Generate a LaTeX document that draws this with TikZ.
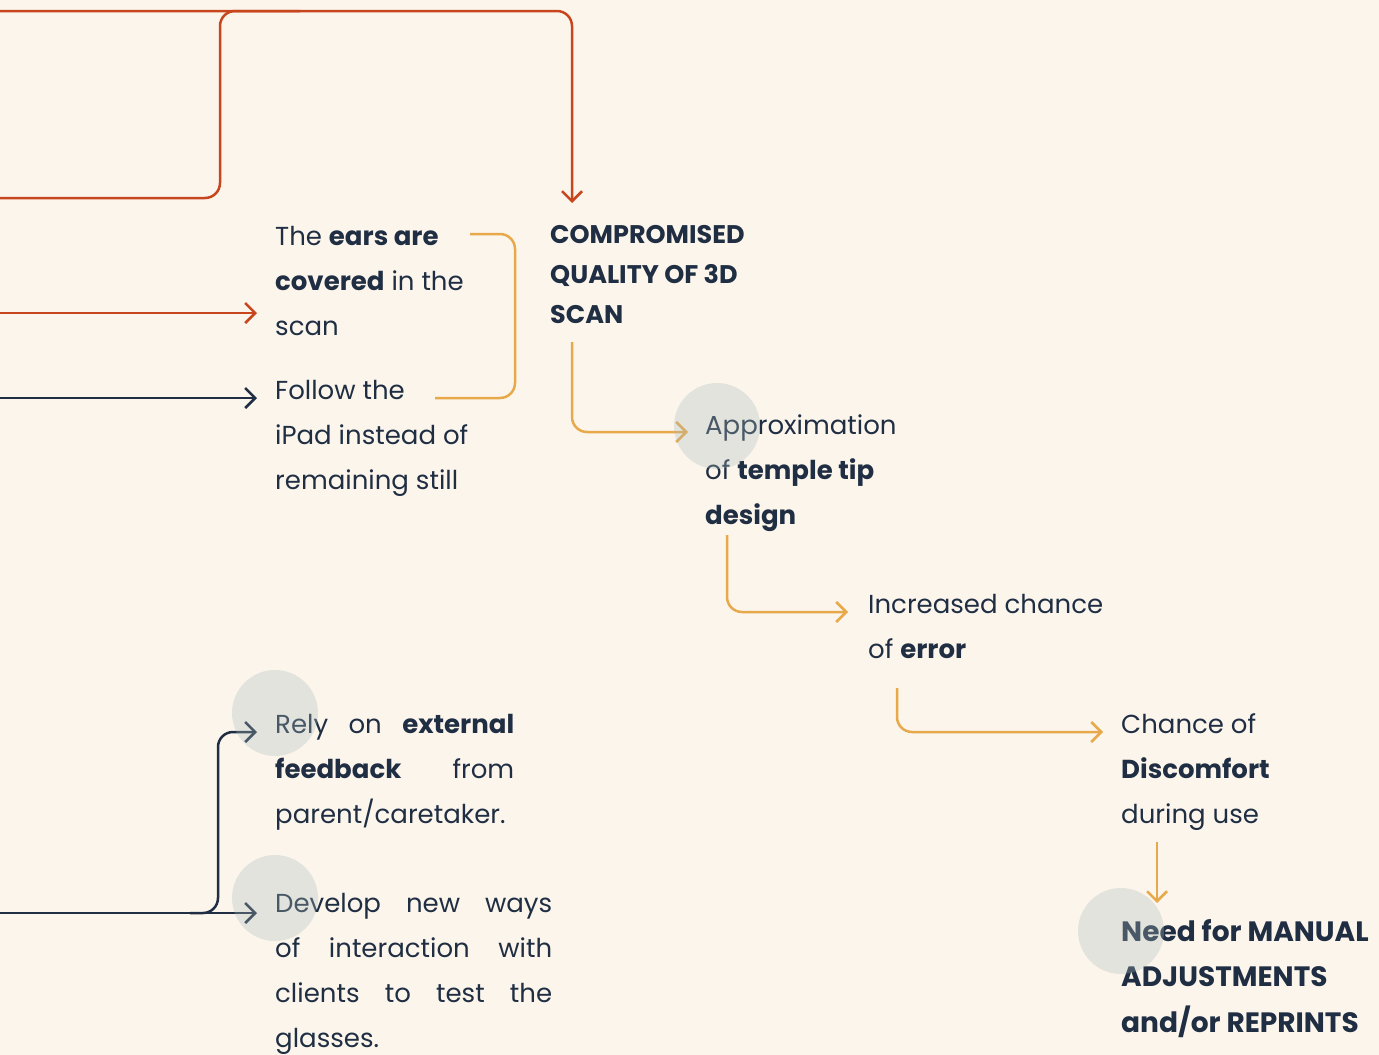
\documentclass[tikz,border=0pt]{standalone}
\usepackage{fontspec}
\setmainfont{Poppins}
\usetikzlibrary{arrows.meta}
\definecolor{paper}{HTML}{FCF5EC}
\definecolor{ink}{HTML}{1F2E42}
\definecolor{rust}{HTML}{C8461E}
\definecolor{amber}{HTML}{E8A94A}
\definecolor{dot}{HTML}{A9BCBD}
\begin{document}
\begin{tikzpicture}[x=1pt,y=-1pt,
  tip/.style={-{Straight Barb[length=10pt,width=20pt]}},
  rustline/.style={draw=rust,line width=2.5pt,rounded corners=15pt},
  amberline/.style={draw=amber,line width=2.5pt,rounded corners=15pt},
  inkline/.style={draw=ink,line width=2.5pt,rounded corners=15pt},
  % multi-line nodes are placed by the baseline of their last line
  body/.style={anchor=base west,inner sep=0pt,align=left,text=ink,
    font=\fontsize{26}{45}\selectfont},
  head/.style={anchor=base west,inner sep=0pt,align=left,text=ink,
    font=\fontsize{25.5}{40}\selectfont\bfseries},
  spot/.style={circle,fill=dot,fill opacity=0.3,minimum size=86pt,inner sep=0pt}]
\useasboundingbox (0,0) rectangle (1379,1055);
\fill[paper] (0,0) rectangle (1379,1055);

% text blocks
\node[body] (ears) at (275,335) {The \textbf{ears are}\\\textbf{covered} in the\\scan};
\node[body] (follow) at (275,489) {Follow the\\iPad instead of\\remaining still};
\node[head] (scan) at (550,323.5) {COMPROMISED\\QUALITY OF 3D\\SCAN};
\node[body] (approx) at (705,524) {Approximation\\of \textbf{temple tip}\\\textbf{design}};
\node[body] (error) at (868,658) {Increased chance\\of \textbf{error}};
\node[body] (discomfort) at (1121,823) {Chance of\\\textbf{Discomfort}\\during use};
\node[body,font=\fontsize{28}{45.5}\selectfont\bfseries] (manual) at (1121,1032)
  {Need for MANUAL\\ADJUSTMENTS\\and/or REPRINTS};
\node[body] (rely) at (275,823)
  {\makebox[239pt][s]{Rely\hfill on\hfill \textbf{external}}\\
   \makebox[239pt][s]{\textbf{feedback}\hfill from}\\
   parent/caretaker.};
\node[body] (develop) at (275,1047)
  {\makebox[277pt][s]{Develop\hfill new\hfill ways}\\
   \makebox[277pt][s]{of\hfill interaction\hfill with}\\
   \makebox[277pt][s]{clients\hfill to\hfill test\hfill the}\\
   glasses.};

% connector ends
\coordinate (inA) at (0,11);
\coordinate (inB) at (0,198);
\coordinate (inC) at (0,313);
\coordinate (inD) at (0,398);
\coordinate (inE) at (0,913);
\coordinate (toScan) at (572,203);
\coordinate (toEars) at (257,313);
\coordinate (toFollow) at (257,398);
\coordinate (toRely) at (257,732);
\coordinate (toDevelop) at (257,913);
\coordinate (toApprox) at (688,432);
\coordinate (toError) at (848,612);
\coordinate (toDiscomfort) at (1103,732);
\coordinate (toManual) at (1157,903);

% red feeds into the scan-quality heading
\draw[rustline,tip] (inA) -- (572,11) -- (toScan);
\draw[rustline] (inB) -- (220,198) -- (220,11) -- (300,11);
\draw[rustline,tip] (inC) -- (toEars);
\draw[inkline,tip] (inD) -- (toFollow);

% bracket joining the two causes
\draw[amberline] (470,234) -- (515,234) -- (515,398) -- (435,398);

% amber cascade
\draw[amberline,tip] (572,342) -- (572,432) -- (toApprox);
\draw[amberline,tip] (727,535) -- (727,612) -- (toError);
\draw[amberline,tip] (897,688) -- (897,732) -- (toDiscomfort);
\draw[amberline,tip] (1157,842) -- (toManual);

% dark branch to the two coping strategies
\draw[inkline,tip] (inE) -- (toDevelop);
\draw[inkline,tip] (190,913) -- (218,913) -- (218,732) -- (toRely);

% soft dots laid over the text
\node[spot] (s1) at (717,426) {};
\node[spot] (s2) at (275,713) {};
\node[spot] (s3) at (275,898) {};
\node[spot] (s4) at (1121,931) {};
\end{tikzpicture}
\end{document}
